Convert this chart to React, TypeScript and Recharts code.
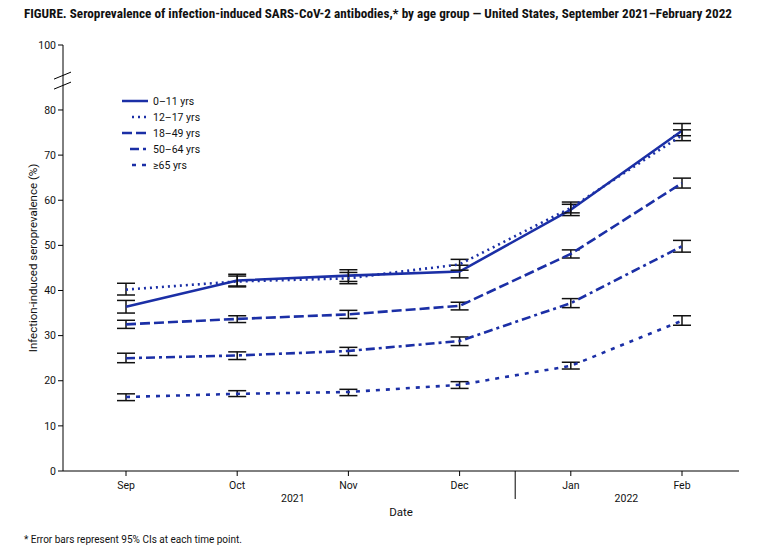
import React from 'react';
import { LineChart, Line, XAxis, YAxis, ErrorBar, ReferenceLine, Legend } from 'recharts';

// categories
const months = ['Sep', 'Oct', 'Nov', 'Dec', 'Jan', 'Feb'];
const years = ['2021', '2022'];

// y axis: break above 80, top tick drawn as 100
const Y_TOP = 94.4;
const Y_BREAK = 86.4;
const yTicks = [0, 10, 20, 30, 40, 50, 60, 70, 80, Y_TOP];

// seroprevalence (%) and 95% CI bounds
const age0to11 = [36.4, 42.2, 43.3, 44.2, 57.9, 75.4];
const age0to11Lo = [35.0, 40.8, 42.0, 42.8, 56.6, 74.3];
const age0to11Hi = [37.8, 43.6, 44.6, 45.6, 59.1, 77.0];

const age12to17 = [40.2, 42.0, 42.7, 45.8, 58.3, 74.4];
const age12to17Lo = [39.0, 41.0, 41.5, 44.5, 57.2, 73.2];
const age12to17Hi = [41.6, 43.2, 44.0, 46.9, 59.6, 75.6];

const age18to49 = [32.5, 33.7, 34.7, 36.6, 48.1, 63.8];
const age18to49Lo = [31.6, 32.9, 33.8, 35.7, 47.2, 62.7];
const age18to49Hi = [33.4, 34.4, 35.6, 37.4, 49.0, 64.9];

const age50to64 = [25.0, 25.6, 26.6, 28.8, 37.2, 49.8];
const age50to64Lo = [24.0, 24.7, 25.6, 27.8, 36.2, 48.5];
const age50to64Hi = [26.1, 26.4, 27.4, 29.7, 38.2, 51.1];

const age65plus = [16.4, 17.1, 17.5, 19.1, 23.3, 33.3];
const age65plusLo = [15.6, 16.5, 16.7, 18.3, 22.6, 32.3];
const age65plusHi = [17.1, 17.8, 18.1, 19.8, 24.1, 34.4];

const BLUE = '#1b2fa6';
const FONT = 'Roboto, "Noto Sans", sans-serif';

const series = [
  { key: 's0', name: '0\u201311 yrs', values: age0to11, lo: age0to11Lo, hi: age0to11Hi, dash: undefined, legendStart: 0 },
  { key: 's1', name: '12\u201317 yrs', values: age12to17, lo: age12to17Lo, hi: age12to17Hi, dash: '2 4', legendStart: 10 },
  { key: 's2', name: '18\u201349 yrs', values: age18to49, lo: age18to49Lo, hi: age18to49Hi, dash: '10 4', legendStart: 0 },
  { key: 's3', name: '50\u201364 yrs', values: age50to64, lo: age50to64Lo, hi: age50to64Hi, dash: '9 4 3 4', legendStart: 8 },
  { key: 's4', name: '\u226565 yrs', values: age65plus, lo: age65plusLo, hi: age65plusHi, dash: '4 6', legendStart: 10 },
];

const data = months.map((m, i) => {
  const row: any = { m };
  series.forEach((s) => {
    row[s.key] = s.values[i];
    row[s.key + 'e'] = [s.values[i] - s.lo[i], s.hi[i] - s.values[i]];
  });
  return row;
});

const PAD_L = 63;
const PAD_R = 57;
const PLOT_W = 676;
const STEP = (PLOT_W - PAD_L - PAD_R) / (months.length - 1);

function MonthTick({ x, y, payload }: any) {
  const m = payload.value;
  return (
    <g>
      <text x={x} y={y + 11} textAnchor="middle" fontSize={10.5} fill="#111" fontFamily={FONT}>{m}</text>
      {m === 'Oct' && (
        <text x={x + STEP / 2} y={y + 24} textAnchor="middle" fontSize={10.5} fill="#111" fontFamily={FONT}>{years[0]}</text>
      )}
      {m === 'Jan' && (
        <text x={x + STEP / 2} y={y + 24} textAnchor="middle" fontSize={10.5} fill="#111" fontFamily={FONT}>{years[1]}</text>
      )}
      {m === 'Dec' && (
        <line x1={x + STEP / 2} x2={x + STEP / 2} y1={y - 7} y2={y + 21} stroke="#000" strokeWidth={1} />
      )}
    </g>
  );
}

function BreakMark({ viewBox }: any) {
  const x = viewBox.x;
  const y = viewBox.y;
  return (
    <g>
      <rect x={x - 2} y={y - 4} width={4} height={8} fill="#fff" />
      <line x1={x - 9} y1={y - 2} x2={x + 8} y2={y - 9} stroke="#000" strokeWidth={1} />
      <line x1={x - 9} y1={y + 8} x2={x + 8} y2={y + 1} stroke="#000" strokeWidth={1} />
    </g>
  );
}

function LegendBox() {
  return (
    <svg width={90} height={84} style={{ display: 'block' }}>
      {series.map((s, i) => (
        <g key={s.key}>
          <line x1={2 + s.legendStart} x2={28} y1={9 + i * 16} y2={9 + i * 16} stroke={BLUE} strokeWidth={2.5} strokeDasharray={s.dash} />
          <text x={33} y={13 + i * 16} fontSize={10.5} fill="#111" fontFamily={FONT}>{s.name}</text>
        </g>
      ))}
    </svg>
  );
}

export default function App() {
  return (
    <div style={{ position: 'absolute', left: 0, top: 0, width: 764, height: 553, background: '#fff' }}>
      <LineChart width={764} height={553} data={data} margin={{ top: 45, right: 25, bottom: 42, left: 0 }}>
        <XAxis
          dataKey="m"
          padding={{ left: PAD_L, right: PAD_R }}
          axisLine={{ stroke: '#000' }}
          tickLine={{ stroke: '#000' }}
          tickSize={5}
          height={40}
          tick={<MonthTick />}
          interval={0}
        />
        <XAxis xAxisId="top" dataKey="m" orientation="top" height={0} tick={false} tickLine={false} axisLine={{ stroke: '#000' }} />
        <YAxis
          domain={[0, Y_TOP]}
          ticks={yTicks}
          width={63}
          interval={0}
          axisLine={{ stroke: '#000' }}
          tickLine={{ stroke: '#000' }}
          tickSize={5}
          tick={{ fontSize: 10.5, fill: '#111', fontFamily: FONT }}
          tickFormatter={(v: number) => (v === Y_TOP ? '100' : String(v))}
          label={{
            value: 'Infection-induced seroprevalence (%)',
            angle: -90,
            position: 'insideLeft',
            offset: 0,
            dx: 33,
            style: { fontSize: 11.5, fill: '#111', fontFamily: FONT, textAnchor: 'middle' },
          }}
        />
        <YAxis yAxisId="right" orientation="right" width={0} tick={false} tickLine={false} axisLine={{ stroke: '#000' }} />
        <ReferenceLine y={Y_BREAK} stroke="none" label={<BreakMark />} />
        <Legend
          layout="vertical"
          align="center"
          verticalAlign="middle"
          wrapperStyle={{ left: 120, top: 92, width: 90 }}
          content={() => <LegendBox />}
        />
        {series.map((s) => (
          <Line
            key={s.key}
            dataKey={s.key}
            name={s.name}
            stroke={BLUE}
            strokeWidth={2.6}
            strokeDasharray={s.dash}
            dot={false}
            activeDot={false}
            isAnimationActive={false}
          >
            <ErrorBar dataKey={s.key + 'e'} width={9} stroke="#111" strokeWidth={1.5} direction="y" />
          </Line>
        ))}
      </LineChart>
      <svg width={764} height={553} style={{ position: 'absolute', left: 0, top: 0, pointerEvents: 'none' }}>
        <text x={24} y={18} fontSize={13} fontWeight="bold" fill="#111" fontFamily='"Liberation Sans Narrow", "Roboto Condensed", Roboto, sans-serif' textLength={708} lengthAdjust="spacingAndGlyphs">
          FIGURE. Seroprevalence of infection-induced SARS-CoV-2 antibodies,* by age group — United States, September 2021–February 2022
        </text>
        <text x={401} y={516} textAnchor="middle" fontSize={11.5} fill="#111" fontFamily={FONT}>Date</text>
        <text x={24} y={543} fontSize={10} fill="#111" fontFamily={FONT}>* Error bars represent 95% CIs at each time point.</text>
      </svg>
    </div>
  );
}
